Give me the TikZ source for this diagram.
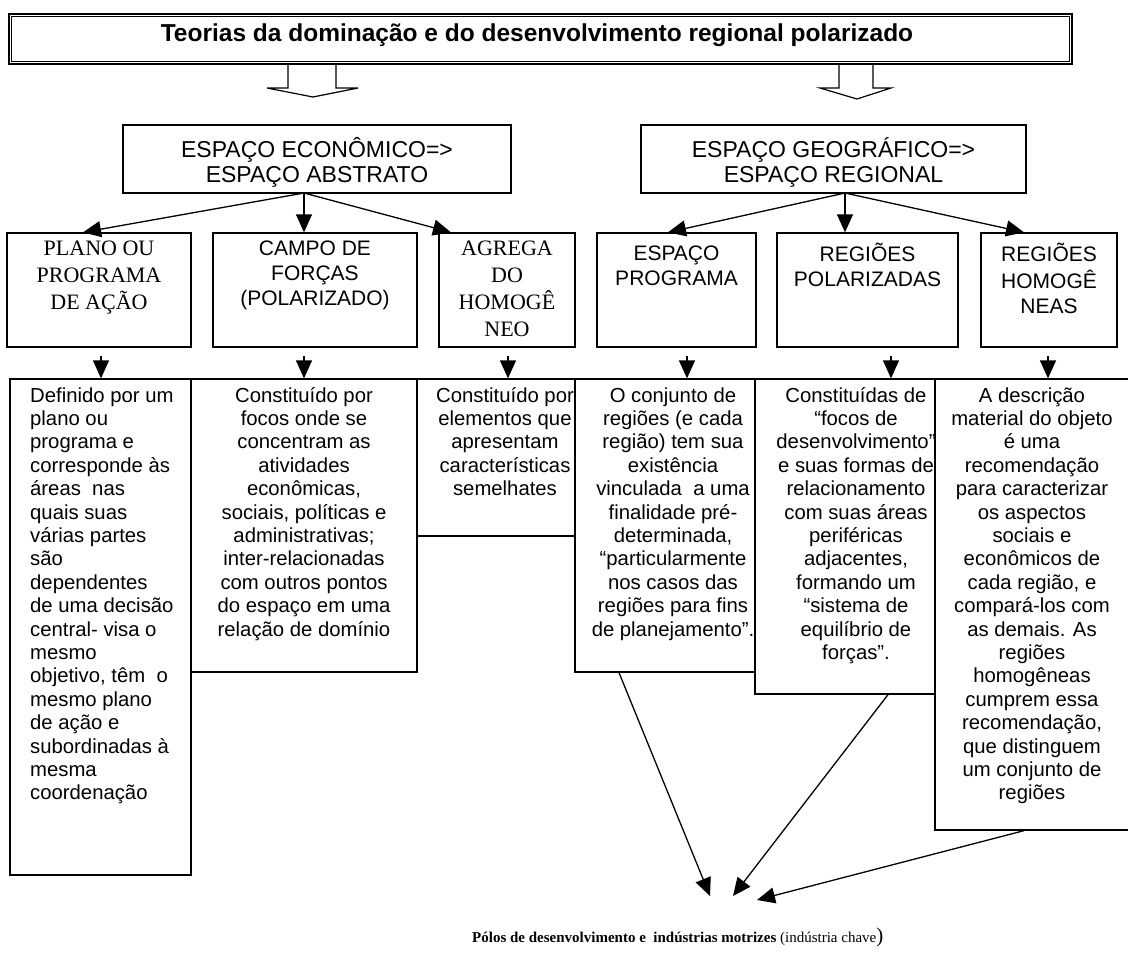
\documentclass[tikz,border=0pt]{standalone}
\usepackage{fontspec}
\setmainfont{Liberation Serif}
\setsansfont{Liberation Sans}
\usetikzlibrary{arrows.meta,calc}
\begin{document}
\begin{tikzpicture}[x=1pt,y=-1pt,
  box/.style={draw, line width=1.3pt, inner sep=0pt, fill=white},
  arr/.style={line width=1.3pt, -{Triangle[length=18pt,width=16pt]}},
  blk/.style={draw, line width=1.2pt, fill=white, line join=miter},
  tb/.style={font=\sffamily\fontsize{20.3}{23.4}\selectfont, inner sep=0pt, anchor=north, align=center},
  tsans/.style={font=\sffamily\fontsize{21}{25}\selectfont, inner sep=0pt, anchor=north, align=center},
  tserif/.style={font=\rmfamily\fontsize{22}{27}\selectfont, inner sep=0pt, anchor=north, align=center},
  thead/.style={font=\sffamily\fontsize{23}{25}\selectfont, inner sep=0pt, anchor=north, align=center}
]
\useasboundingbox (0,0) rectangle (1128,954);
\fill[white] (0,0) rectangle (1128,954);

% title
\node[draw, line width=1.8pt, minimum width=1063pt, minimum height=50pt, inner sep=0pt] (title) at (540.5,39) {};
\draw[line width=0.9pt] ($(title.north west)+(3.5,3.5)$) rectangle ($(title.south east)+(-3.5,-3.5)$);
\node[font=\sffamily\bfseries\fontsize{24.5}{27}\selectfont, inner sep=0pt, anchor=base] (titletxt) at (537,41.5) {Teorias da dominação e do desenvolvimento regional polarizado};

% block arrows
\coordinate (ba1) at (313,65);
\coordinate (ba2) at (857,65);
\draw[blk] ($(ba1)+(-25,0)$) -- ($(ba1)+(-25,23)$) -- ($(ba1)+(-46,23)$) -- ($(ba1)+(0,32)$) -- ($(ba1)+(45,23)$) -- ($(ba1)+(23,23)$) -- ($(ba1)+(23,0)$);
\draw[blk] ($(ba2)+(-18,0)$) -- ($(ba2)+(-18,23)$) -- ($(ba2)+(-37,23)$) -- ($(ba2)+(0,34)$) -- ($(ba2)+(34,23)$) -- ($(ba2)+(16,23)$) -- ($(ba2)+(16,0)$);

% level 1
\node[box, minimum width=388pt, minimum height=68pt] (econ) at (317,159) {};
\node[thead] (econtxt) at (317,137.5) {\strut ESPAÇO ECONÔMICO=>\\ESPAÇO ABSTRATO};
\node[box, minimum width=385pt, minimum height=68pt] (geo) at (833.5,159) {};
\node[thead] (geotxt) at (833.5,137.5) {\strut ESPAÇO GEOGRÁFICO=>\\ESPAÇO REGIONAL};

% level 2
\node[box, minimum width=184pt, minimum height=114pt] (plano) at (99,290) {};
\node[tserif] (planotxt) at (99,236.4) {\strut PLANO OU\\PROGRAMA\\DE AÇÃO};
\node[box, minimum width=204pt, minimum height=114pt] (campo) at (315,290) {};
\node[tsans] (campotxt) at (315,237.3) {\strut CAMPO DE\\FORÇAS\\(POLARIZADO)};
\node[box, minimum width=136pt, minimum height=114pt] (agrega) at (507,290) {};
\node[tserif] (agregatxt) at (507,236.4) {\strut AGREGA\\DO\\HOMOGÊ\\NEO};
\node[box, minimum width=159pt, minimum height=114pt] (esppro) at (676.5,290) {};
\node[tsans] (espprotxt) at (676.5,243) {\strut ESPAÇO\\PROGRAMA};
\node[box, minimum width=181pt, minimum height=114pt] (regpol) at (867.5,290) {};
\node[tsans] (regpoltxt) at (867.5,243) {\strut REGIÕES\\POLARIZADAS};
\node[box, minimum width=136pt, minimum height=114pt] (reghom) at (1049,290) {};
\node[tsans] (reghomtxt) at (1049,243) {\strut REGIÕES\\HOMOGÊ\\NEAS};

% arrows level1 -> level2
\coordinate (eo) at (304,193);
\coordinate (go) at (845,193);
\coordinate (e1) at (83,233);
\coordinate (e2) at (304,233);
\coordinate (e3) at (451,233);
\coordinate (g1) at (668,233);
\coordinate (g2) at (845,233);
\coordinate (g3) at (1024,233);
\draw[arr] (eo) -- (e1 |- plano.north);
\draw[arr] (eo) -- (e2 |- campo.north);
\draw[arr] (eo) -- (e3 |- agrega.north);
\draw[arr] (go) -- (g1 |- esppro.north);
\draw[arr] (go) -- (g2 |- regpol.north);
\draw[arr] (go) -- (g3 |- reghom.north);

% level 3
\node[box, minimum width=181pt, minimum height=496pt] (ba) at (100.5,627) {};
\node[tb, anchor=north west, align=left] (batxt) at (30,385.6) {\strut Definido por um\\plano ou\\programa e\\corresponde às\\áreas\ \ nas\\quais suas\\várias partes\\são\\dependentes\\de uma decisão\\central- visa o\\mesmo\\objetivo, têm\ \ o\\mesmo plano\\de ação e\\subordinadas à\\mesma\\coordenação};
\node[box, minimum width=226pt, minimum height=293pt] (bb) at (304,525.5) {};
\node[tb] (bbtxt) at (304,385.6) {\strut Constituído por\\focos onde se\\concentram as\\atividades\\econômicas,\\sociais, políticas e\\administrativas;\\inter-relacionadas\\com outros pontos\\do espaço em uma\\relação de domínio};
\node[box, minimum width=158pt, minimum height=157pt] (bc) at (496,457.5) {};
\node[tb] (bctxt) at (505,385.6) {\strut Constituído por\\elementos que\\apresentam\\características\\semelhates};
\node[box, minimum width=180pt, minimum height=293pt] (bd) at (665,525.5) {};
\node[tb] (bdtxt) at (673,385.6) {\strut O conjunto de\\regiões (e cada\\região) tem sua\\existência\\vinculada\ \ a uma\\finalidade pré-\\determinada,\\“particularmente\\nos casos das\\regiões para fins\\de planejamento”.};
\node[box, minimum width=180pt, minimum height=315pt] (be) at (845,536.5) {};
\node[tb] (betxt) at (856,385.6) {\strut Constituídas de\\“focos de\\desenvolvimento”\\e suas formas de\\relacionamento\\com suas áreas\\periféricas\\adjacentes,\\formando um\\“sistema de\\equilíbrio de\\forças”.};
\node[box, minimum width=196pt, minimum height=451pt] (bf) at (1033,604.5) {};
\node[tb] (bftxt) at (1032,385.6) {\strut A descrição\\material do objeto\\é uma\\recomendação\\para caracterizar\\os aspectos\\sociais e\\econômicos de\\cada região, e\\compará-los com\\as demais. As\\regiões\\homogêneas\\cumprem essa\\recomendação,\\que distinguem\\um conjunto de\\regiões};

% small arrows level2 -> level3
\coordinate (s1) at (101,356);
\coordinate (s2) at (304,356);
\coordinate (s3) at (508,356);
\coordinate (s4) at (687,356);
\coordinate (s5) at (891,356);
\coordinate (s6) at (1048,356);
\draw[arr] (s1) -- (s1 |- ba.north);
\draw[arr] (s2) -- (s2 |- bb.north);
\draw[arr] (s3) -- (s3 |- bc.north);
\draw[arr] (s4) -- (s4 |- bd.north);
\draw[arr] (s5) -- (s5 |- be.north);
\draw[arr] (s6) -- (s6 |- bf.north);

% bottom text
\node[font=\rmfamily\fontsize{15}{18}\selectfont, inner sep=0pt, anchor=base west] (polos) at (472,942) {\textbf{Pólos de desenvolvimento e\ \ indústrias motrizes} (indústria chave{\fontsize{21}{21}\selectfont)}};

% converging arrows
\coordinate (d0) at (619,672);
\coordinate (e0) at (888,694);
\coordinate (f0) at (1024,830);
\coordinate (tp1) at (710,896);
\coordinate (tp2) at (733,896);
\coordinate (tp3) at (757,900);
\draw[arr] (d0 |- bd.south) -- (tp1);
\draw[arr] (e0 |- be.south) -- (tp2);
\draw[arr] (f0 |- bf.south) -- (tp3);
\end{tikzpicture}
\end{document}
